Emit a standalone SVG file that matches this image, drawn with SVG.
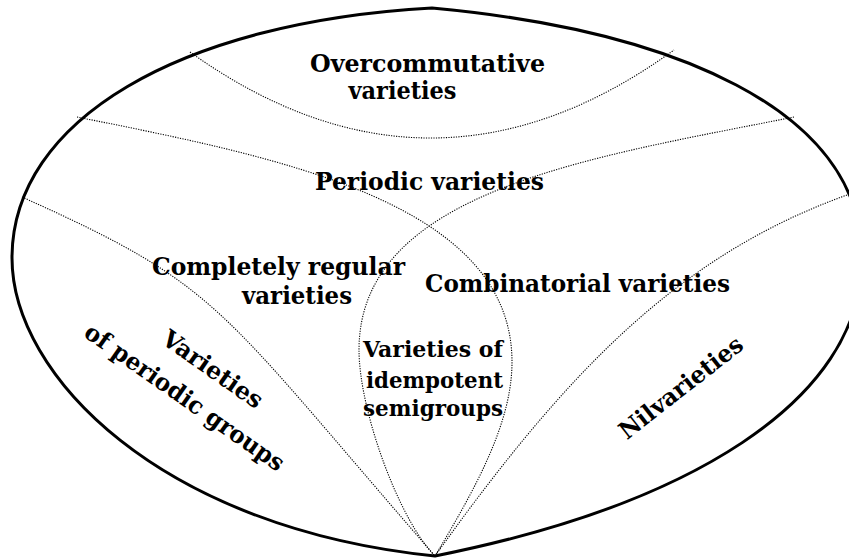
<svg xmlns="http://www.w3.org/2000/svg" width="849" height="559" viewBox="0 0 849 559">
<style>
.outer{fill:none;stroke:#000;stroke-width:3;stroke-linejoin:round}
.dot{fill:none;stroke:#000;stroke-width:1.1;stroke-dasharray:1.2 1.3}
text{font-family:"DejaVu Serif","Liberation Serif",serif;font-weight:bold;font-size:24px;fill:#000;text-anchor:middle}
.sm{font-size:22px}
</style>
<rect width="849" height="559" fill="#fff"/>
<g id="connectors">
<path class="dot" d="M190,52 Q432,225 674,50"/>
<path class="dot" d="M77,117 C277,157 512,202 512,362 C512,422 477,486 435,556"/>
<path class="dot" d="M794,117 C594,157 359,190 359,350 C359,410 399,520 435,556"/>
<path class="dot" d="M22,197 C222,287 215,303 435,556"/>
<path class="dot" d="M847,195 C677,256 565,374 435,556"/>
</g>
<g id="outer">
<path class="outer" d="M432,8 C180,22 12,120 12,258 C12,375 160,528 435,556 C685,506 862,403 862,258 C862,108 670,30 432,8 Z"/>
</g>
<g id="overcommutative">
<text x="427.5" y="72" textLength="235" lengthAdjust="spacingAndGlyphs">Overcommutative</text>
<text x="402.5" y="99" textLength="108" lengthAdjust="spacingAndGlyphs">varieties</text>
</g>
<g id="periodic">
<text x="429.5" y="190" textLength="229" lengthAdjust="spacingAndGlyphs">Periodic varieties</text>
</g>
<g id="completely-regular">
<text x="278.5" y="275" textLength="253" lengthAdjust="spacingAndGlyphs">Completely regular</text>
<text x="297" y="304" textLength="110" lengthAdjust="spacingAndGlyphs">varieties</text>
</g>
<g id="combinatorial">
<text x="577.5" y="292" textLength="305" lengthAdjust="spacingAndGlyphs">Combinatorial varieties</text>
</g>
<g id="idempotent">
<text class="sm" x="433" y="357" textLength="140" lengthAdjust="spacingAndGlyphs">Varieties of</text>
<text class="sm" x="434.5" y="388" textLength="137" lengthAdjust="spacingAndGlyphs">idempotent</text>
<text class="sm" x="433" y="416" textLength="140" lengthAdjust="spacingAndGlyphs">semigroups</text>
</g>
<g id="periodic-groups">
<text transform="translate(208,376) rotate(35)" x="0" y="0" textLength="117" lengthAdjust="spacingAndGlyphs">Varieties</text>
<text transform="translate(180,404) rotate(35)" x="0" y="0" textLength="238" lengthAdjust="spacingAndGlyphs">of periodic groups</text>
</g>
<g id="nilvarieties">
<text transform="translate(686,394) rotate(-38)" x="0" y="0" textLength="150" lengthAdjust="spacingAndGlyphs">Nilvarieties</text>
</g>
</svg>
